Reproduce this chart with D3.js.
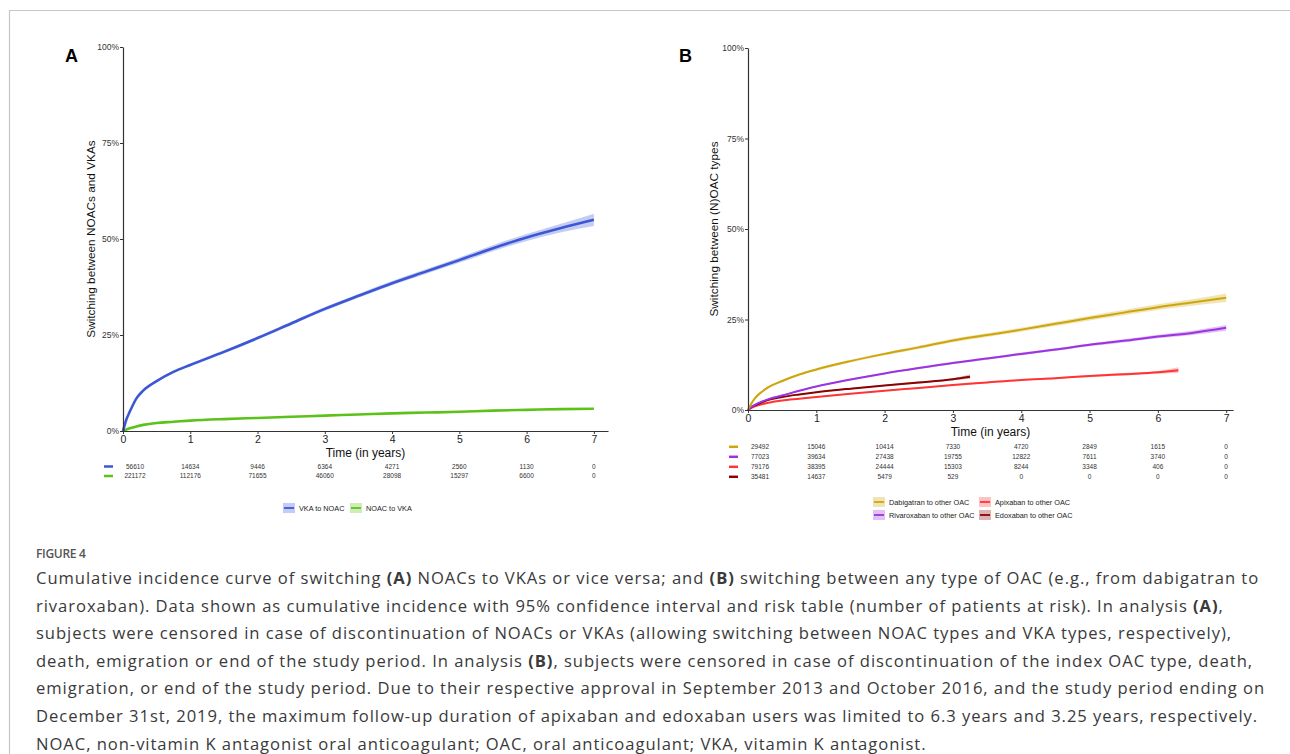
<!DOCTYPE html>
<html>
<head>
<meta charset="utf-8">
<script src="https://cdn.jsdelivr.net/npm/d3@7"></script>
<style>
  body { margin: 0; background: #fff; }
  svg { display: block; }
</style>
</head>
<body>
<svg id="fig" width="1290" height="754"></svg>
<script>
// ---- data (percent) ----
const timeGrid = [0, 0.05, 0.1, 0.2, 0.3, 0.5, 0.75, 1, 1.5, 2, 2.5, 3, 3.5, 4, 4.5, 5, 5.5, 6, 6.5, 7];

const vkaToNoac   = [0, 3, 5, 8.5, 10.5, 13, 15.4, 17.2, 20.6, 24.2, 28, 31.8, 35.2, 38.5, 41.5, 44.5, 47.6, 50.4, 52.8, 55];
const vkaToNoacCi = [0, 0.2, 0.2, 0.3, 0.3, 0.3, 0.3, 0.35, 0.4, 0.4, 0.45, 0.5, 0.5, 0.55, 0.6, 0.7, 0.8, 0.9, 1.1, 1.6];
const noacToVka   = [0, 0.4, 0.7, 1.2, 1.6, 2.1, 2.4, 2.7, 3.1, 3.4, 3.7, 4.0, 4.3, 4.6, 4.8, 5.0, 5.3, 5.5, 5.7, 5.8];
const noacToVkaCi = [0, 0.05, 0.05, 0.05, 0.05, 0.05, 0.05, 0.05, 0.06, 0.07, 0.08, 0.08, 0.09, 0.1, 0.1, 0.12, 0.13, 0.15, 0.18, 0.22];

const dabigatran     = [0, 1.8, 3.2, 5, 6.3, 8, 9.8, 11.2, 13.5, 15.5, 17.3, 19.2, 20.7, 22.2, 23.8, 25.4, 26.9, 28.4, 29.7, 31];
const dabigatranCi   = [0, 0.2, 0.2, 0.3, 0.3, 0.3, 0.3, 0.35, 0.4, 0.4, 0.45, 0.5, 0.5, 0.55, 0.6, 0.65, 0.7, 0.8, 0.9, 1.2];
const rivaroxaban    = [0, 0.8, 1.4, 2.3, 3, 4, 5.3, 6.5, 8.4, 10.1, 11.6, 13, 14.2, 15.5, 16.7, 18, 19.1, 20.3, 21.3, 22.7];
const rivaroxabanCi  = [0, 0.1, 0.1, 0.15, 0.15, 0.2, 0.2, 0.2, 0.25, 0.25, 0.3, 0.3, 0.3, 0.35, 0.35, 0.4, 0.45, 0.5, 0.6, 0.8];
const apixabanTimes  = [0, 0.05, 0.1, 0.2, 0.3, 0.5, 0.75, 1, 1.5, 2, 2.5, 3, 3.5, 4, 4.5, 5, 5.5, 6, 6.3];
const apixaban       = [0, 0.6, 1, 1.6, 2, 2.6, 3.1, 3.6, 4.5, 5.3, 6.1, 6.9, 7.6, 8.3, 8.8, 9.4, 9.9, 10.4, 11];
const apixabanCi     = [0, 0.05, 0.05, 0.1, 0.1, 0.1, 0.1, 0.1, 0.12, 0.15, 0.15, 0.2, 0.2, 0.2, 0.25, 0.3, 0.35, 0.4, 0.8];
const edoxabanTimes  = [0, 0.05, 0.1, 0.2, 0.3, 0.5, 0.75, 1, 1.5, 2, 2.5, 3, 3.25];
const edoxaban       = [0, 0.8, 1.3, 2.1, 2.8, 3.6, 4.3, 4.9, 5.9, 6.8, 7.6, 8.5, 9.2];
const edoxabanCi     = [0, 0.05, 0.1, 0.1, 0.1, 0.15, 0.15, 0.15, 0.2, 0.2, 0.25, 0.3, 0.6];

// risk tables (number at risk)
const riskTimes       = [0, 1, 2, 3, 4, 5, 6, 7];
const riskVkaToNoac   = [56610, 14634, 9446, 6364, 4271, 2560, 1130, 0];
const riskNoacToVka   = [221172, 112176, 71655, 46060, 28098, 15297, 6600, 0];
const riskDabigatran  = [29492, 15046, 10414, 7330, 4720, 2849, 1615, 0];
const riskRivaroxaban = [77023, 39634, 27438, 19755, 12822, 7611, 3740, 0];
const riskApixaban    = [79176, 38395, 24444, 15303, 8244, 3348, 406, 0];
const riskEdoxaban    = [35481, 14637, 5479, 529, 0, 0, 0, 0];

const yTicks = [0, 0.25, 0.5, 0.75, 1];
const xTicks = [0, 1, 2, 3, 4, 5, 6, 7];

const captionLines = [
  [["Cumulative incidence curve of switching ", 0], ["(A)", 1], [" NOACs to VKAs or vice versa; and ", 0], ["(B)", 1], [" switching between any type of OAC (e.g., from dabigatran to", 0]],
  [["rivaroxaban). Data shown as cumulative incidence with 95% confidence interval and risk table (number of patients at risk). In analysis ", 0], ["(A)", 1], [",", 0]],
  [["subjects were censored in case of discontinuation of NOACs or VKAs (allowing switching between NOAC types and VKA types, respectively),", 0]],
  [["death, emigration or end of the study period. In analysis ", 0], ["(B)", 1], [", subjects were censored in case of discontinuation of the index OAC type, death,", 0]],
  [["emigration, or end of the study period. Due to their respective approval in September 2013 and October 2016, and the study period ending on", 0]],
  [["December 31st, 2019, the maximum follow-up duration of apixaban and edoxaban users was limited to 6.3 years and 3.25 years, respectively.", 0]],
  [["NOAC, non-vitamin K antagonist oral anticoagulant; OAC, oral anticoagulant; VKA, vitamin K antagonist.", 0]]
];

const svg = d3.select("#fig");
const chartFont = "'Liberation Sans', Arial, sans-serif";

// frame
svg.append("path").attr("d", "M9.5,754 V10.5 H1290").attr("fill", "none").attr("stroke", "#c6c6c6").attr("stroke-width", 1.2);

function drawPanel(cfg) {
  const g = svg.append("g").style("font-family", chartFont);
  const x = d3.scaleLinear().domain([0, cfg.xMax]).range([cfg.left, cfg.right]);
  const y = d3.scaleLinear().domain([0, 1]).range([cfg.bottom, cfg.top]);

  // bands + lines
  cfg.series.forEach((s) => {
    const pts = s.times.map((t, i) => ({ t, v: s.values[i] / 100, ci: s.ci[i] / 100 }));
    const area = d3.area().curve(d3.curveMonotoneX)
      .x((d) => x(d.t)).y0((d) => y(Math.max(0, d.v - d.ci))).y1((d) => y(d.v + d.ci));
    g.append("path").attr("d", area(pts)).attr("fill", s.color).attr("opacity", 0.3);
  });
  cfg.series.forEach((s) => {
    const pts = s.times.map((t, i) => ({ t, v: s.values[i] / 100 }));
    const line = d3.line().curve(d3.curveMonotoneX).x((d) => x(d.t)).y((d) => y(d.v));
    g.append("path").attr("d", line(pts)).attr("fill", "none").attr("stroke", s.color)
      .attr("stroke-width", cfg.lineWidth).attr("stroke-linejoin", "round");
  });

  // axes
  const xAxis = g.append("g").attr("transform", `translate(0,${cfg.bottom})`)
    .call(d3.axisBottom(x).tickValues(xTicks).tickFormat(d3.format("d")).tickSize(3).tickSizeOuter(0).tickPadding(2));
  xAxis.select(".domain").attr("stroke", "#333").attr("stroke-width", 1.2);
  xAxis.selectAll(".tick line").attr("stroke", "#333");
  xAxis.selectAll("text").attr("font-size", 10.5).attr("fill", "#222").attr("font-family", chartFont);

  const yAxis = g.append("g").attr("transform", `translate(${cfg.left},0)`)
    .call(d3.axisLeft(y).tickValues(yTicks).tickFormat(d3.format(".0%")).tickSize(3).tickSizeOuter(0).tickPadding(1));
  yAxis.select(".domain").attr("stroke", "#333").attr("stroke-width", 1.2);
  yAxis.selectAll(".tick line").attr("stroke", "#333");
  yAxis.selectAll("text").attr("font-size", 8.5).attr("fill", "#333").attr("font-family", chartFont);

  g.append("text").attr("x", (cfg.left + cfg.right) / 2).attr("y", cfg.bottom + 26)
    .attr("text-anchor", "middle").attr("font-size", 12).attr("fill", "#111").text("Time (in years)");
  g.append("text").attr("transform", `translate(${cfg.left - cfg.titleGap},${(cfg.top + cfg.bottom) / 2}) rotate(-90)`)
    .attr("text-anchor", "middle").attr("font-size", 11.8).attr("fill", "#111").text(cfg.yTitle);

  g.append("text").attr("x", cfg.tagX).attr("y", 62).attr("font-size", 18).attr("font-weight", "bold")
    .attr("fill", "#000").text(cfg.tag);

  // risk table
  cfg.risk.forEach((r, ri) => {
    const ry = cfg.riskTop + ri * cfg.riskStep;
    g.append("line").attr("x1", cfg.left - 19).attr("x2", cfg.left - 10).attr("y1", ry).attr("y2", ry)
      .attr("stroke", r.color).attr("stroke-width", 2.5);
    g.selectAll(null).data(riskTimes).join("text")
      .attr("x", (t) => Math.max(x(t), x(0) + 12)).attr("y", ry).attr("dy", "0.35em")
      .attr("text-anchor", "middle").attr("font-size", 6.5).attr("fill", "#333")
      .text((t, i) => r.values[i]);
  });

  // legend
  cfg.legend.forEach((l) => {
    const lg = g.append("g").attr("transform", `translate(${l.x},${l.y})`);
    lg.append("rect").attr("x", 0).attr("y", -5).attr("width", 12).attr("height", 10).attr("fill", l.color).attr("opacity", 0.3);
    lg.append("line").attr("x1", 1).attr("x2", 11).attr("y1", 0).attr("y2", 0).attr("stroke", l.color).attr("stroke-width", 1.8);
    lg.append("text").attr("x", 16).attr("y", 0).attr("dy", "0.35em").attr("font-size", 7.3).attr("fill", "#222").text(l.label);
  });
}

const blue = "#3b57d6", green = "#5cc21a", gold = "#cda50c", purple = "#9b33e0", red = "#ff3535", darkred = "#8b0000";

drawPanel({
  tag: "A", tagX: 65, left: 123, right: 608, xMax: 7.21, top: 47, bottom: 431, lineWidth: 2.6, titleGap: 28,
  yTitle: "Switching between NOACs and VKAs",
  series: [
    { times: timeGrid, values: noacToVka, ci: noacToVkaCi, color: green },
    { times: timeGrid, values: vkaToNoac, ci: vkaToNoacCi, color: blue }
  ],
  riskTop: 466.5, riskStep: 9.5,
  risk: [{ values: riskVkaToNoac, color: blue }, { values: riskNoacToVka, color: green }],
  legend: [
    { x: 283, y: 508, color: blue, label: "VKA to NOAC" },
    { x: 350, y: 508, color: green, label: "NOAC to VKA" }
  ]
});

drawPanel({
  tag: "B", tagX: 679, left: 748, right: 1233, xMax: 7.1, top: 48, bottom: 410, lineWidth: 2, titleGap: 30,
  yTitle: "Switching between (N)OAC types",
  series: [
    { times: apixabanTimes, values: apixaban, ci: apixabanCi, color: red },
    { times: edoxabanTimes, values: edoxaban, ci: edoxabanCi, color: darkred },
    { times: timeGrid, values: rivaroxaban, ci: rivaroxabanCi, color: purple },
    { times: timeGrid, values: dabigatran, ci: dabigatranCi, color: gold }
  ],
  riskTop: 446.8, riskStep: 10,
  risk: [
    { values: riskDabigatran, color: gold },
    { values: riskRivaroxaban, color: purple },
    { values: riskApixaban, color: red },
    { values: riskEdoxaban, color: darkred }
  ],
  legend: [
    { x: 873, y: 502, color: gold, label: "Dabigatran to other OAC" },
    { x: 873, y: 515, color: purple, label: "Rivaroxaban to other OAC" },
    { x: 979, y: 502, color: red, label: "Apixaban to other OAC" },
    { x: 979, y: 515, color: darkred, label: "Edoxaban to other OAC" }
  ]
});

// caption
svg.append("text").attr("x", 36).attr("y", 558).attr("font-family", "'Open Sans', sans-serif")
  .attr("font-size", 12).attr("font-weight", 600).attr("fill", "#555").attr("letter-spacing", -0.3).text("FIGURE 4");

const cap = svg.append("g").attr("font-family", "'Open Sans', sans-serif").attr("font-size", 16.6)
  .attr("letter-spacing", 0.95).attr("fill", "#3a3a3a");
captionLines.forEach((parts, i) => {
  const t = cap.append("text").attr("x", 36).attr("y", 584 + i * 27.6);
  parts.forEach(([s, b]) => t.append("tspan").attr("font-weight", b ? 700 : 400).text(s));
});
</script>
</body>
</html>
